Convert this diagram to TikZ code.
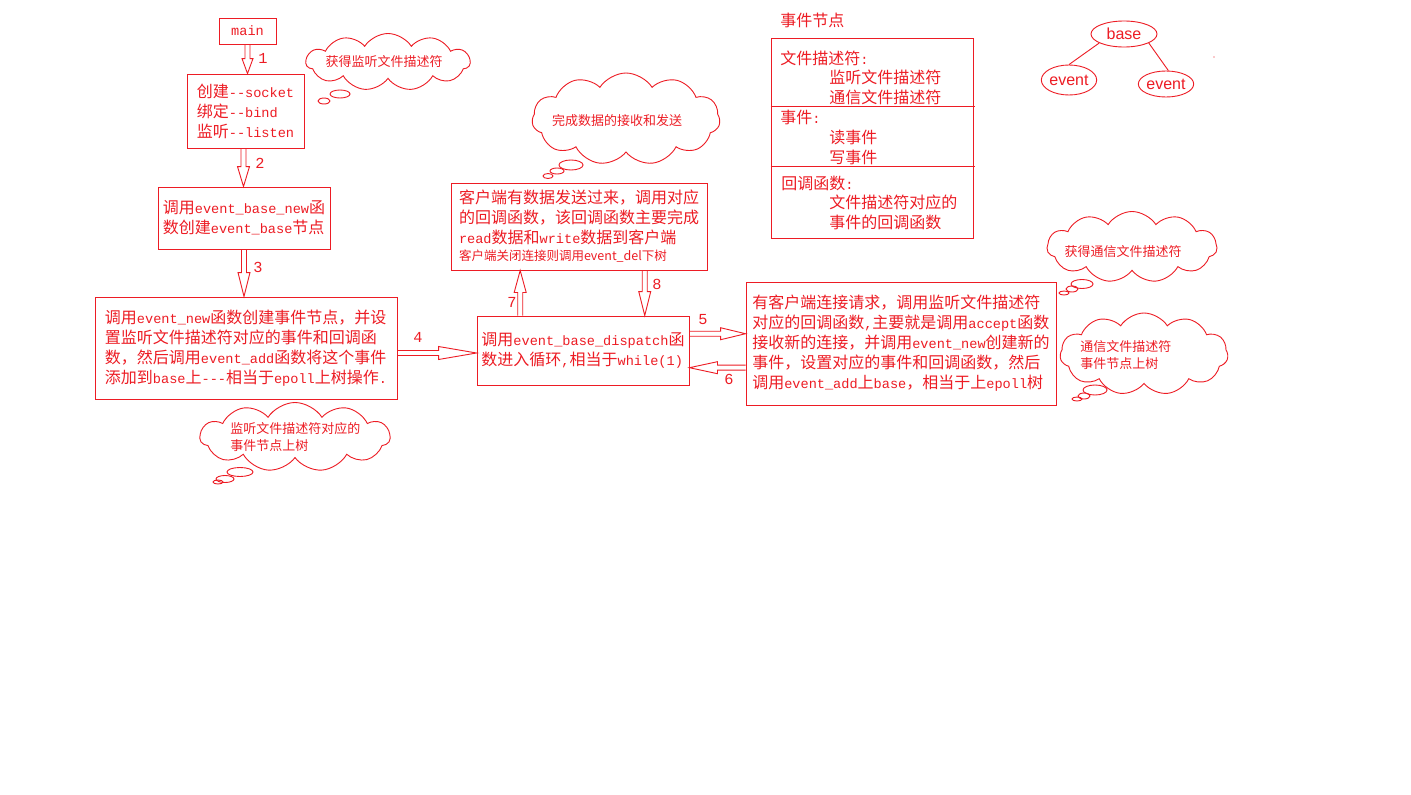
\documentclass[tikz,border=0pt]{standalone}
\usepackage{fontspec}
\setmainfont{Noto Sans CJK SC}
\setmonofont{Liberation Mono}[Scale=0.85]
\newfontfamily\lsans{Liberation Sans}
\usetikzlibrary{calc,shapes.geometric,shapes.symbols}
\definecolor{pred}{RGB}{237,28,36}
\newcommand\mt[1]{{\ttfamily #1}}
\newcommand\barrow[4]{%
  \path #1 coordinate (ba-s);
  \path #2 coordinate (ba-e);
  \path ($(ba-e)!#3!(ba-s)$) coordinate (ba-h);
  \draw[arr] ($(ba-s)!2.5pt!90:(ba-e)$) -- ($(ba-h)!2.5pt!90:(ba-e)$) -- ($(ba-h)!#4!90:(ba-e)$) -- (ba-e) -- ($(ba-h)!#4!-90:(ba-e)$) -- ($(ba-h)!2.5pt!-90:(ba-e)$) -- ($(ba-s)!2.5pt!-90:(ba-e)$);
}
\begin{document}
\begin{tikzpicture}[x=1pt,y=-1pt,line width=0.9pt,
  every node/.style={text=pred},
  box/.style={draw=pred,rectangle,inner sep=0pt,align=left,font=\fontsize{16}{20}\selectfont},
  txt/.style={inner sep=0pt,anchor=west,font=\fontsize{16}{20}\selectfont},
  num/.style={inner sep=0pt,font=\ttfamily\fontsize{18}{20}\selectfont},
  cloudbox/.style={draw=pred,cloud,cloud ignores aspect,cloud puffs=11,cloud puff arc=115,inner sep=0pt},
  ctext/.style={inner sep=0pt,align=left,font=\fontsize{13}{17}\selectfont},
  bub/.style={draw=pred},
  arr/.style={draw=pred,line width=0.9pt,line join=miter},
  oval/.style={draw=pred,ellipse,inner sep=0pt,font=\lsans\fontsize{16}{18}\selectfont}
]
\fill[white] (0,0) rectangle (1411,795);
\useasboundingbox (0,0) rectangle (1411,795);

% main flow boxes
\node[box,minimum width=57pt,minimum height=26pt] (main) at (247.5,31) {\mt{main}};
\node[box,minimum width=117pt,minimum height=74pt] (b1) at (245.5,111) {创建\mt{--socket}\\绑定\mt{--bind}\\监听\mt{--listen}};
\node[box,minimum width=172pt,minimum height=62pt] (b2) at (244,218) {调用\mt{event\_base\_new}函\\数创建\mt{event\_base}节点};
\node[box,minimum width=302pt,minimum height=102pt] (b3) at (246,348) {调用\mt{event\_new}函数创建事件节点，并设\\置监听文件描述符对应的事件和回调函\\数，然后调用\mt{event\_add}函数将这个事件\\添加到\mt{base}上\mt{---}相当于\mt{epoll}上树操作\mt{.}};
\node[box,minimum width=212pt,minimum height=69pt] (disp) at (583,350.5) {调用\mt{event\_base\_dispatch}函\\数进入循环\mt{,}相当于\mt{while(1)}};
\node[box,minimum width=256pt,minimum height=87pt] (cb) at (579,226.5) {客户端有数据发送过来，调用对应\\的回调函数，该回调函数主要完成\\\mt{read}数据和\mt{write}数据到客户端\\[-3pt]{\fontsize{12.5}{14}\selectfont 客户端关闭连接则调用event\_del下树}};
\node[box,minimum width=310pt,minimum height=123pt] (rb) at (901,343.5) {有客户端连接请求，调用监听文件描述符\\对应的回调函数\mt{,}主要就是调用\mt{accept}函数\\接收新的连接，并调用\mt{event\_new}创建新的\\事件，设置对应的事件和回调函数，然后\\调用\mt{event\_add}上\mt{base}，相当于上\mt{epoll}树};

% arrows
\barrow{(main.south)}{(main.south |- b1.north)}{15pt}{5.5pt}
\coordinate (a2s) at ([xshift=-2pt]b1.south);
\barrow{(a2s)}{(a2s |- b2.north)}{20pt}{6pt}
\barrow{(b2.south)}{(b2.south |- b3.north)}{24pt}{6pt}
\coordinate (a4s) at ([yshift=-5pt]b3.east);
\barrow{(a4s)}{(a4s -| disp.west)}{38pt}{6.5pt}
\coordinate (a5s) at ($(disp.north east)!0.26!(disp.south east)$);
\barrow{(a5s)}{(a5s -| rb.west)}{25pt}{6pt}
\coordinate (a6e) at ($(disp.north east)!0.746!(disp.south east)$);
\barrow{(a6e -| rb.west)}{(a6e)}{28pt}{6pt}
\coordinate (a7s) at ($(disp.north west)!0.205!(disp.north east)$);
\barrow{(a7s)}{(a7s |- cb.south)}{22pt}{6pt}
\coordinate (a8e) at ($(disp.north west)!0.79!(disp.north east)$);
\barrow{(a8e |- cb.south)}{(a8e)}{24pt}{6pt}

% arrow labels
\node[num] (l1) at (263,58) {1};
\node[num] (l2) at (260,163) {2};
\node[num] (l3) at (258,267) {3};
\node[num] (l4) at (418,337) {4};
\node[num] (l5) at (703,320) {5};
\node[num] (l6) at (729,379) {6};
\node[num] (l7) at (512,302) {7};
\node[num] (l8) at (657,284) {8};

% event node table
\node[txt] (tt) at (780,20) {事件节点};
\node[draw=pred,rectangle,inner sep=0pt,minimum width=202pt,minimum height=200pt] (tbl) at (872,138) {};
\draw[pred] ($(tbl.north west)+(0,69)$) -- ($(tbl.north east)+(2,69)$);
\draw[pred] ($(tbl.north west)+(0,129)$) -- ($(tbl.north east)+(2,129)$);
\node[txt] (t1) at (780,58) {文件描述符\mt{:}};
\node[txt] (t2) at (829,77) {监听文件描述符};
\node[txt] (t3) at (829,97) {通信文件描述符};
\node[txt] (t4) at (780,117) {事件\mt{:}};
\node[txt] (t5) at (829,137) {读事件};
\node[txt] (t6) at (829,157) {写事件};
\node[txt] (t7) at (781,183) {回调函数\mt{:}};
\node[txt] (t8) at (829,202) {文件描述符对应的};
\node[txt] (t9) at (829,222) {事件的回调函数};

% tree
\node[oval,minimum width=66pt,minimum height=26pt] (base) at (1124,34) {base};
\node[oval,minimum width=54pt,minimum height=30pt] (ev1) at (1069,80) {event};
\node[oval,minimum width=52pt,minimum height=26pt] (ev2) at (1166,84) {event};
\draw[pred] (base.200) -- (ev1.north);
\draw[pred] (base.-20) -- (ev2.80);
\fill[pred] (1214,57) circle (0.7);

% clouds
\node[cloudbox,minimum width=164pt,minimum height=57pt] (c1) at (388,62) {};
\node[ctext] (c1t) at (384,62) {获得监听文件描述符};
\draw[bub] (340,94) ellipse [x radius=10,y radius=4];
\draw[bub] (324,101) ellipse [x radius=6,y radius=3];

\node[cloudbox,minimum width=188pt,minimum height=92pt] (c2) at (626,119) {};
\node[ctext] (c2t) at (617,121) {完成数据的接收和发送};
\draw[bub] (571,165) ellipse [x radius=12,y radius=5];
\draw[bub] (557,171) ellipse [x radius=7,y radius=3];
\draw[bub] (548,176) ellipse [x radius=5,y radius=2.5];

\node[cloudbox,minimum width=170pt,minimum height=71pt] (c3) at (1132,247) {};
\node[ctext] (c3t) at (1123,252) {获得通信文件描述符};
\draw[bub] (1082,284) ellipse [x radius=11,y radius=4.5];
\draw[bub] (1072,289) ellipse [x radius=6,y radius=3];
\draw[bub] (1064,293) ellipse [x radius=5,y radius=2];

\node[cloudbox,minimum width=168pt,minimum height=82pt] (c4) at (1144,354) {};
\node[ctext,anchor=west] (c4t) at (1080,355) {通信文件描述符\\事件节点上树};
\draw[bub] (1095,390) ellipse [x radius=12,y radius=5];
\draw[bub] (1084,396) ellipse [x radius=6,y radius=3];
\draw[bub] (1077,399) ellipse [x radius=5,y radius=2];

\node[cloudbox,minimum width=190pt,minimum height=69pt] (c5) at (295,437) {};
\node[ctext,anchor=west] (c5t) at (230,437.5) {监听文件描述符对应的\\事件节点上树};
\draw[bub] (240,472) ellipse [x radius=13,y radius=4.5];
\draw[bub] (225,479) ellipse [x radius=9,y radius=3.5];
\draw[bub] (218,482) ellipse [x radius=5,y radius=2];
\end{tikzpicture}
\end{document}
